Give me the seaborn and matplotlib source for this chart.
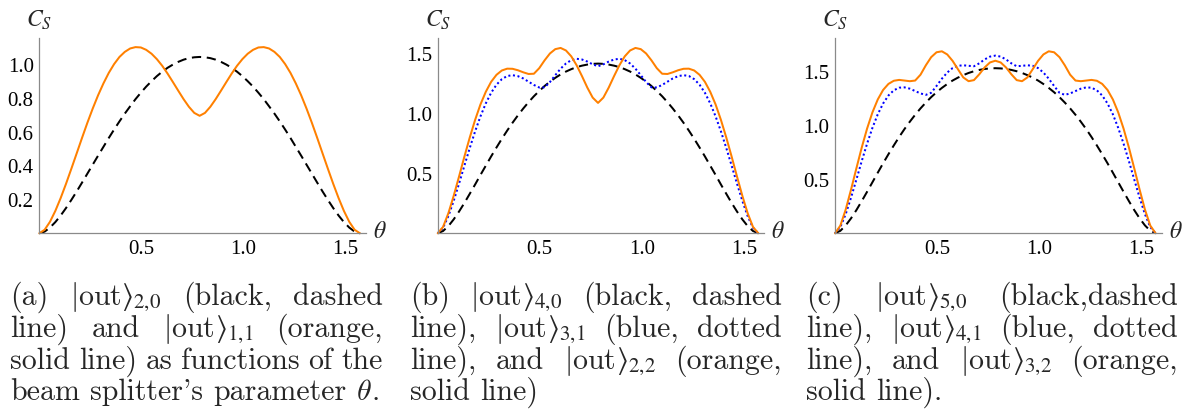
import matplotlib
matplotlib.use("Agg")
import matplotlib.pyplot as plt
import seaborn as sns
import pandas as pd

# ---------------- data ----------------
theta = [0.0000, 0.0262, 0.0524, 0.0785, 0.1047, 0.1309, 0.1571, 0.1833, 0.2094, 0.2356,
         0.2618, 0.2880, 0.3142, 0.3403, 0.3665, 0.3927, 0.4189, 0.4451, 0.4712, 0.4974,
         0.5236, 0.5498, 0.5760, 0.6021, 0.6283, 0.6545, 0.6807, 0.7069, 0.7330, 0.7592,
         0.7854, 0.8116, 0.8378, 0.8639, 0.8901, 0.9163, 0.9425, 0.9687, 0.9948, 1.0210,
         1.0472, 1.0734, 1.0996, 1.1257, 1.1519, 1.1781, 1.2043, 1.2305, 1.2566, 1.2828,
         1.3090, 1.3352, 1.3614, 1.3875, 1.4137, 1.4399, 1.4661, 1.4923, 1.5184, 1.5446,
         1.5708]

# panel (a)
out_2_0 = [0.000, 0.010, 0.034, 0.066, 0.105, 0.149, 0.197, 0.247, 0.299, 0.352,
           0.405, 0.458, 0.510, 0.562, 0.612, 0.660, 0.706, 0.749, 0.791, 0.829,
           0.865, 0.897, 0.927, 0.953, 0.976, 0.995, 1.011, 1.024, 1.033, 1.038,
           1.040, 1.038, 1.033, 1.024, 1.011, 0.995, 0.976, 0.953, 0.927, 0.897,
           0.865, 0.829, 0.791, 0.749, 0.706, 0.660, 0.612, 0.562, 0.510, 0.458,
           0.405, 0.352, 0.299, 0.247, 0.197, 0.149, 0.105, 0.066, 0.034, 0.010,
           0.000]
out_1_1 = [0.000, 0.021, 0.068, 0.132, 0.208, 0.292, 0.381, 0.472, 0.563, 0.652,
           0.736, 0.814, 0.884, 0.946, 0.998, 1.040, 1.070, 1.090, 1.098, 1.096,
           1.082, 1.059, 1.027, 0.988, 0.942, 0.892, 0.841, 0.791, 0.746, 0.710,
           0.693, 0.710, 0.746, 0.791, 0.841, 0.892, 0.942, 0.988, 1.027, 1.059,
           1.082, 1.096, 1.098, 1.090, 1.070, 1.040, 0.998, 0.946, 0.884, 0.814,
           0.736, 0.652, 0.563, 0.472, 0.381, 0.292, 0.208, 0.132, 0.068, 0.021,
           0.000]
# panel (b)
out_4_0 = [0.000, 0.019, 0.060, 0.116, 0.181, 0.252, 0.328, 0.405, 0.484, 0.561,
           0.638, 0.712, 0.784, 0.852, 0.917, 0.978, 1.035, 1.088, 1.137, 1.181,
           1.222, 1.258, 1.290, 1.318, 1.342, 1.362, 1.379, 1.391, 1.400, 1.406,
           1.408, 1.406, 1.400, 1.391, 1.379, 1.362, 1.342, 1.318, 1.290, 1.258,
           1.222, 1.181, 1.137, 1.088, 1.035, 0.978, 0.917, 0.852, 0.784, 0.712,
           0.638, 0.561, 0.484, 0.405, 0.328, 0.252, 0.181, 0.116, 0.060, 0.019,
           0.000]
out_3_1 = [0.000, 0.046, 0.143, 0.270, 0.413, 0.562, 0.708, 0.846, 0.970, 1.078,
           1.166, 1.233, 1.279, 1.305, 1.312, 1.304, 1.285, 1.258, 1.231, 1.210,
           1.211, 1.255, 1.312, 1.366, 1.409, 1.437, 1.448, 1.442, 1.425, 1.402,
           1.386, 1.402, 1.425, 1.442, 1.448, 1.437, 1.409, 1.366, 1.312, 1.255,
           1.211, 1.210, 1.231, 1.258, 1.285, 1.304, 1.312, 1.305, 1.279, 1.233,
           1.166, 1.078, 0.970, 0.846, 0.708, 0.562, 0.413, 0.270, 0.143, 0.046,
           0.000]
out_2_2 = [0.000, 0.053, 0.167, 0.312, 0.472, 0.637, 0.795, 0.941, 1.069, 1.174,
           1.257, 1.315, 1.351, 1.366, 1.365, 1.353, 1.336, 1.322, 1.324, 1.370,
           1.435, 1.492, 1.528, 1.538, 1.517, 1.468, 1.394, 1.304, 1.209, 1.126,
           1.082, 1.126, 1.209, 1.304, 1.394, 1.468, 1.517, 1.538, 1.528, 1.492,
           1.435, 1.370, 1.324, 1.322, 1.336, 1.353, 1.365, 1.366, 1.351, 1.315,
           1.257, 1.174, 1.069, 0.941, 0.795, 0.637, 0.472, 0.312, 0.167, 0.053,
           0.000]
# panel (c)
out_5_0 = [0.000, 0.023, 0.073, 0.138, 0.214, 0.297, 0.383, 0.471, 0.559, 0.646,
           0.730, 0.811, 0.889, 0.962, 1.030, 1.094, 1.153, 1.207, 1.257, 1.302,
           1.342, 1.378, 1.410, 1.437, 1.460, 1.480, 1.496, 1.508, 1.517, 1.522,
           1.524, 1.522, 1.517, 1.508, 1.496, 1.480, 1.460, 1.437, 1.410, 1.378,
           1.342, 1.302, 1.257, 1.207, 1.153, 1.094, 1.030, 0.962, 0.889, 0.811,
           0.730, 0.646, 0.559, 0.471, 0.383, 0.297, 0.214, 0.138, 0.073, 0.023,
           0.000]
out_4_1 = [0.000, 0.057, 0.177, 0.329, 0.496, 0.666, 0.827, 0.973, 1.098, 1.198,
           1.272, 1.320, 1.344, 1.347, 1.335, 1.313, 1.291, 1.278, 1.297, 1.360,
           1.427, 1.484, 1.525, 1.546, 1.551, 1.546, 1.542, 1.569, 1.605, 1.631,
           1.640, 1.631, 1.605, 1.569, 1.542, 1.546, 1.551, 1.546, 1.525, 1.484,
           1.427, 1.360, 1.297, 1.278, 1.291, 1.313, 1.335, 1.347, 1.344, 1.320,
           1.272, 1.198, 1.098, 0.973, 0.827, 0.666, 0.496, 0.329, 0.177, 0.057,
           0.000]
out_3_2 = [0.000, 0.071, 0.219, 0.403, 0.599, 0.791, 0.966, 1.116, 1.235, 1.323,
           1.379, 1.408, 1.416, 1.410, 1.404, 1.410, 1.464, 1.551, 1.626, 1.671,
           1.680, 1.651, 1.592, 1.515, 1.439, 1.404, 1.414, 1.468, 1.531, 1.577,
           1.593, 1.577, 1.531, 1.468, 1.414, 1.404, 1.439, 1.515, 1.592, 1.651,
           1.680, 1.671, 1.626, 1.551, 1.464, 1.410, 1.404, 1.410, 1.416, 1.408,
           1.379, 1.323, 1.235, 1.116, 0.966, 0.791, 0.599, 0.403, 0.219, 0.071,
           0.000]

x_major = [0.5, 1.0, 1.5]
x_major_labels = ["0.5", "1.0", "1.5"]
ya_major = [0.2, 0.4, 0.6, 0.8, 1.0]
ya_labels = ["0.2", "0.4", "0.6", "0.8", "1.0"]
ybc_major = [0.5, 1.0, 1.5]
ybc_labels = ["0.5", "1.0", "1.5"]


def ket(a, b):
    # |out> with subscript, built from two pieces (CM "out", proper-size angle bracket)
    return [(r"$|\mathrm{out}$", "cm"), (r"$\rangle_{%s{,}%s}$" % (a, b), "stix")]


captions = [
    [["(a)", ket(2, 0), "(black,", "dashed"],
     ["line)", "and", ket(1, 1), "(orange,"],
     ["solid", "line)", "as", "functions", "of", "the"],
     ["beam", "splitter's", "parameter", [(r"$\theta$", "cm"), (".", None)]]],
    [["(b)", ket(4, 0), "(black,", "dashed"],
     ["line),", ket(3, 1), "(blue,", "dotted"],
     ["line),", "and", ket(2, 2), "(orange,"],
     ["solid", "line)"]],
    [["(c)", ket(5, 0), "(black,dashed"],
     ["line),", ket(4, 1), "(blue,", "dotted"],
     ["line),", "and", ket(3, 2), "(orange,"],
     ["solid", "line)."]],
]

# ---------------- style ----------------
sns.set_style("white")
plt.rcParams["font.family"] = ["Liberation Serif", "DejaVu Serif"]
plt.rcParams["mathtext.fontset"] = "stix"

W, H = 1190, 414
fig = plt.figure(figsize=(W / 100, H / 100), dpi=100)

AX_GRAY = "#8a8a8a"
ORANGE = "#FF8000"
BLUE = "#0000FF"
DASH = (0, (4.6, 2.8))
DOT = (0, (1.0, 1.3))

panels = [
    dict(l=39.3, r=365.9, ymax=1.15, ymaj=ya_major, ylab=ya_labels, ymin_step=0.05,
         series=[(out_2_0, "black", DASH), (out_1_1, ORANGE, "-")]),
    dict(l=437.7, r=764.3, ymax=1.618, ymaj=ybc_major, ylab=ybc_labels, ymin_step=0.1,
         series=[(out_4_0, "black", DASH), (out_3_1, BLUE, DOT), (out_2_2, ORANGE, "-")]),
    dict(l=835.0, r=1161.6, ymax=1.76, ymaj=ybc_major, ylab=ybc_labels, ymin_step=0.1,
         series=[(out_5_0, "black", DASH), (out_4_1, BLUE, DOT), (out_3_2, ORANGE, "-")]),
]

bottom_px, top_px = 234.3, 39.3
for p in panels:
    ax = fig.add_axes([p["l"] / W, (H - bottom_px) / H, (p["r"] - p["l"]) / W,
                       (bottom_px - top_px) / H])
    for vals, col, ls in p["series"]:
        df = pd.DataFrame({"theta": theta, "cs": vals})
        sns.lineplot(data=df, x="theta", y="cs", ax=ax, color=col, linestyle=ls,
                     linewidth=1.45, clip_on=False, sort=False, estimator=None)
    ax.set_xlim(0, 1.6)
    ax.set_ylim(0, p["ymax"])
    ax.set_xlabel("")
    ax.set_ylabel("")
    for s in ["top", "right"]:
        ax.spines[s].set_visible(False)
    for s in ["left", "bottom"]:
        ax.spines[s].set_color(AX_GRAY)
        ax.spines[s].set_linewidth(0.9)
    ax.set_xticks(x_major)
    ax.set_xticklabels(x_major_labels)
    xmin = [round(0.1 * i, 2) for i in range(1, 17) if i % 5 != 0]
    ax.set_xticks(xmin, minor=True)
    ax.set_yticks(p["ymaj"])
    ax.set_yticklabels(p["ylab"])
    st = p["ymin_step"]
    n = int(round(p["ymax"] / st))
    ymin = [round(st * i, 3) for i in range(1, n + 1)
            if all(abs(st * i - m) > 1e-6 for m in p["ymaj"])]
    ax.set_yticks(ymin, minor=True)
    ax.tick_params(which="both", direction="in", color=AX_GRAY, width=0.8,
                   labelsize=15, labelcolor="black", pad=4)
    ax.tick_params(which="major", length=3.8)
    ax.tick_params(which="minor", length=2.2)
    ax.patch.set_alpha(0)
    # axis labels
    fig.text(p["l"] / W, 1 - 27 / H, r"$C_S$", ha="center", va="baseline",
             fontsize=17, math_fontfamily="stix")
    fig.text((p["r"] + 14) / W, 1 - 233 / H, r"$\theta$", ha="center", va="center",
             fontsize=17, math_fontfamily="stix")

# ---------------- captions (justified) ----------------
renderer = fig.canvas.get_renderer()
cap_family = ["cmr10", "DejaVu Serif"]


def mk(s, fs, mf="cm"):
    kw = dict(fontsize=fs, family=cap_family, va="baseline", ha="left")
    kw["math_fontfamily"] = mf if mf else "cm"
    return fig.text(0, 0, s, **kw)


def make_word(word, fs):
    parts = [(word, "cm")] if isinstance(word, str) else word
    objs = [mk(s, fs, mf) for s, mf in parts]
    ws = [o.get_window_extent(renderer).width for o in objs]
    return objs, ws


# choose font size so that the natural width of (a)'s last line is ~368 px
probe = mk("beam splitter's parameter " + r"$\theta$.", 20)
w20 = probe.get_window_extent(renderer).width
probe.remove()
fs_cap = 20 * 368.0 / w20

cols = [(10, 383), (410, 782), (806, 1178)]
baselines = [305, 337, 369, 400]
space_px = 0.333 * fs_cap * 100 / 72
for (x0, x1), lines in zip(cols, captions):
    for li, words in enumerate(lines):
        built = [make_word(w, fs_cap) for w in words]
        widths = [sum(ws) for _, ws in built]
        last = li == len(lines) - 1
        if not last and len(words) > 1:
            gap = ((x1 - x0) - sum(widths)) / (len(words) - 1)
        else:
            gap = space_px
        x = x0
        for (objs, ws), wtot in zip(built, widths):
            xx = x
            for o, w in zip(objs, ws):
                o.set_position((xx / W, 1 - baselines[li] / H))
                xx += w
            x += wtot + gap

fig.savefig("out.png", dpi=100)
